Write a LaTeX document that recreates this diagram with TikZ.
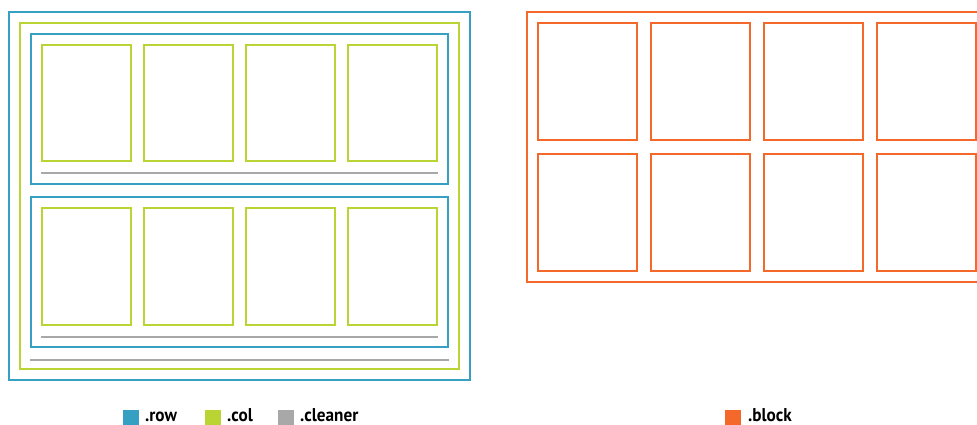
\documentclass[tikz,border=0pt]{standalone}
\usepackage{fontspec}
\setmainfont{PT Sans}
\definecolor{rowc}{HTML}{36A0C2}
\definecolor{colc}{HTML}{BAD433}
\definecolor{clc}{HTML}{A8A8A8}
\definecolor{blk}{HTML}{F4692A}
\begin{document}
\begin{tikzpicture}[x=1pt,y=-1pt,
  rowbox/.style={draw=rowc,line width=2pt},
  colbox/.style={draw=colc,line width=2pt},
  cleanline/.style={draw=clc,line width=1.8pt},
  blockbox/.style={draw=blk,line width=2pt},
  legsq/.style={minimum width=16pt,minimum height=15.5pt,inner sep=0pt,anchor=north west},
  legtxt/.style={anchor=base west,inner sep=0pt,font=\fontsize{18.5}{18.5}\selectfont\bfseries}]
\useasboundingbox (0,0) rectangle (977,425);
\begin{scope}
\clip (0,0) rectangle (977,425);
% left
\draw[rowbox] (9,12) rectangle (470,380);
\draw[colbox] (20,23) rectangle (459,369);
\draw[rowbox] (31,34) rectangle (448,184);
\draw[rowbox] (31,197) rectangle (448,347);
\foreach \x in {42,144,246,348}{
  \draw[colbox] (\x,45) rectangle ++(89,116);
  \draw[colbox] (\x,208) rectangle ++(89,117);
}
\draw[cleanline] (41,173) -- (438,173);
\draw[cleanline] (41,337) -- (438,337);
\draw[cleanline] (30,360) -- (449,360);
% right
\draw[blockbox] (527,12) rectangle (990,282);
\foreach \x in {538,651,764,877}{
  \draw[blockbox] (\x,23) rectangle ++(99,117);
  \draw[blockbox] (\x,154) rectangle ++(99,117);
}
\end{scope}
% legend
\node[legsq,fill=rowc] (sqrow) at (123,409.5) {};
\node[legtxt] (trow) at (145,421) {\scalebox{0.93}[1]{.row}};
\node[legsq,fill=colc] (sqcol) at (205,409.5) {};
\node[legtxt] (tcol) at (227,421) {\scalebox{0.93}[1]{.col}};
\node[legsq,fill=clc] (sqcl) at (278,409.5) {};
\node[legtxt] (tcl) at (300,421) {\scalebox{0.93}[1]{.cleaner}};
\node[legsq,fill=blk] (sqblk) at (725,409.5) {};
\node[legtxt] (tblk) at (748,421) {\scalebox{0.93}[1]{.block}};
\end{tikzpicture}
\end{document}
